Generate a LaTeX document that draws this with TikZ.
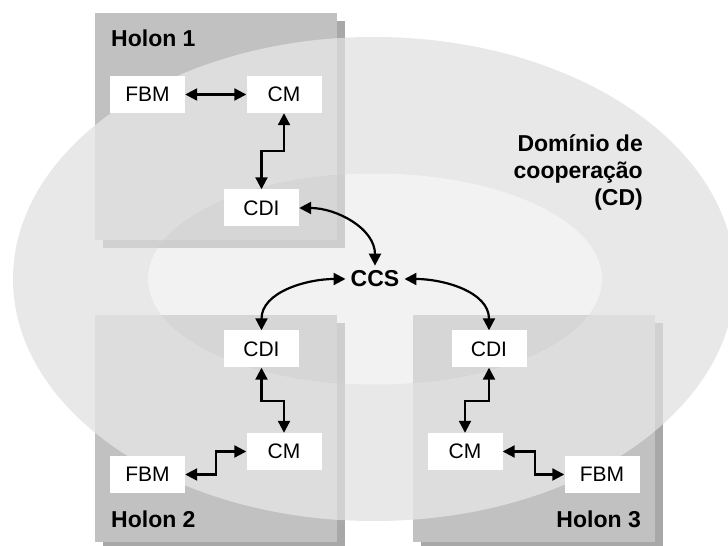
\documentclass[tikz,border=0pt]{standalone}
\usepackage{fontspec}
\setmainfont{Liberation Sans}
\usetikzlibrary{arrows.meta}

\definecolor{cdfill}{HTML}{E8E8E8}
\definecolor{ccsfill}{HTML}{F2F2F2}
\definecolor{holonfill}{HTML}{C1C1C1}
\definecolor{holonshade}{HTML}{A8A8A8}
\definecolor{holonincd}{HTML}{DDDDDD}
\definecolor{shadeincd}{HTML}{D1D1D1}
\definecolor{holonincc}{HTML}{D6D6D6}
\definecolor{shadeincc}{HTML}{CECECE}

% holon panels: shadow first, then the panel
\newcommand{\holonpanels}[2]{%
  \foreach \hx/\hy in {95/306,95/4,413/4} {
    \fill [#1] (\hx+8,\hy-8) rectangle ++(242,227);
    \fill [#2] (\hx,\hy) rectangle ++(242,227);
  }}

\tikzset{
  module/.style={fill=white, minimum width=75, minimum height=37, inner sep=0pt,
    font=\fontsize{21}{25}\selectfont},
  title/.style={font=\fontsize{23}{27}\selectfont\bfseries, inner sep=0pt},
  link/.style={{Triangle[length=12pt,width=12pt]}-{Triangle[length=12pt,width=12pt]}, line width=2.2pt},
}

\begin{document}
\begin{tikzpicture}[x=1pt,y=1pt]
  \useasboundingbox (0,0) rectangle (728,546);

  % cooperation domain
  \fill [cdfill] (374,267) ellipse [x radius=361, y radius=242];
  \fill [ccsfill] (375,267) ellipse [x radius=227, y radius=105.5];

  \holonpanels{holonshade}{holonfill}
  \begin{scope}
    \clip (374,267) ellipse [x radius=361, y radius=242];
    \holonpanels{shadeincd}{holonincd}
  \end{scope}
  \begin{scope}
    \clip (375,267) ellipse [x radius=227, y radius=105.5];
    \holonpanels{shadeincc}{holonincc}
  \end{scope}

  \node [title, anchor=west] (h1) at (111,508) {Holon 1};
  \node [title, anchor=west] (h2) at (111,27) {Holon 2};
  \node [title, anchor=east] (h3) at (641,27) {Holon 3};
  \node [title, anchor=east, align=right] (cd) at (643,374) {Domínio de\\cooperação\\(CD)};

  % holon 1
  \node [module] (fbm1) at (147.5,451.5) {FBM};
  \node [module] (cm1) at (284,451.5) {CM};
  \node [module] (cdi1) at (261.5,338) {CDI};
  % holon 2
  \node [module] (cdi2) at (261.5,197) {CDI};
  \node [module] (cm2) at (284,94.5) {CM};
  \node [module] (fbm2) at (147.5,71.5) {FBM};
  % holon 3
  \node [module] (cdi3) at (489,197) {CDI};
  \node [module] (cm3) at (465,94.5) {CM};
  \node [module] (fbm3) at (602,71.5) {FBM};

  \node [title, inner sep=5pt] (ccs) at (375,267) {CCS};

  \draw [link] (fbm1.east) -- (cm1.west);
  \draw [link] (cm1.south) -- ++(0,-38) -| (cdi1.north);
  \draw [link] (cdi2.south) -- ++(0,-33) -| (cm2.north);
  \draw [link] (cm2.west) -- ++(-30,0) |- (fbm2.east);
  \draw [link] (cdi3.south) -- ++(0,-33) -| (cm3.north);
  \draw [link] (cm3.east) -- ++(32,0) |- (fbm3.west);

  \draw [link] (cdi1.east) to [out=0, in=90] (ccs.north);
  \draw [link] (ccs.west) to [out=180, in=90] (cdi2.north);
  \draw [link] (ccs.east) to [out=0, in=90] (cdi3.north);
\end{tikzpicture}
\end{document}
